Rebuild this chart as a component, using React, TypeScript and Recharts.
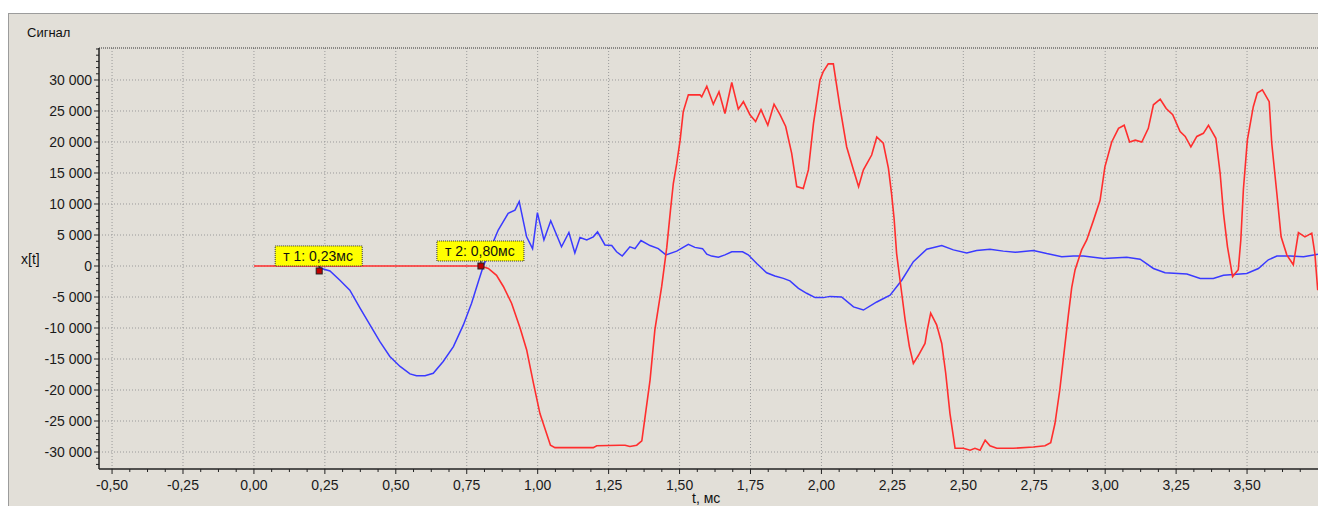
import React from 'react';
import { LineChart, Line, XAxis, YAxis, ReferenceLine, ReferenceDot } from 'recharts';

// red channel (t in ms, value)
const redTimes = [
  0.0, 0.8, 0.826, 0.855, 0.879, 0.908, 0.938, 0.961, 0.985, 1.008, 1.045, 1.061, 1.196, 1.208, 1.29, 1.308,
  1.325, 1.349, 1.367, 1.378, 1.396, 1.413, 1.437, 1.455, 1.468, 1.478, 1.49, 1.502, 1.513, 1.531, 1.572, 1.578,
  1.596, 1.619, 1.639, 1.66, 1.684, 1.707, 1.725, 1.748, 1.768, 1.787, 1.811, 1.833, 1.854, 1.874, 1.895, 1.913,
  1.936, 1.954, 1.972, 1.995, 2.006, 2.024, 2.042, 2.065, 2.089, 2.113, 2.131, 2.148, 2.177, 2.195, 2.218, 2.236,
  2.247, 2.256, 2.265, 2.277, 2.295, 2.31, 2.324, 2.342, 2.365, 2.373, 2.385, 2.406, 2.424, 2.438, 2.453, 2.471,
  2.5, 2.524, 2.541, 2.559, 2.577, 2.594, 2.618, 2.676, 2.747, 2.788, 2.808, 2.823, 2.84, 2.855, 2.87, 2.882,
  2.894, 2.917, 2.935, 2.959, 2.982, 2.999, 3.023, 3.047, 3.067, 3.086, 3.106, 3.129, 3.152, 3.17, 3.194, 3.215,
  3.238, 3.264, 3.282, 3.302, 3.323, 3.346, 3.364, 3.39, 3.405, 3.417, 3.431, 3.449, 3.469, 3.478, 3.487, 3.501,
  3.522, 3.536, 3.554, 3.578, 3.587, 3.605, 3.62, 3.64, 3.663, 3.681, 3.704, 3.728, 3.739, 3.749,
];
const redValues = [
  0, 0, -400, -1500, -3300, -6000, -10000, -13500, -18900, -23800, -28900, -29300, -29300, -29000, -28900, -28900,
  -29100, -28900, -28200, -24500, -18400, -10300, -3300, 3000, 9000, 13300, 16500, 20300, 24900, 27600, 27600, 27300,
  29000, 26100, 28100, 24600, 29600, 25300, 26500, 24400, 23300, 25200, 22700, 26100, 24400, 22500, 18200, 12800,
  12500, 15500, 23000, 30000, 31300, 32600, 32600, 25700, 19200, 15500, 12800, 15500, 17900, 20800, 19800, 15800,
  11700, 7700, 2000, -2300, -8700, -13000, -15700, -14400, -12500, -10300, -7600, -9500, -12500, -17300, -23800, -29400,
  -29400, -29700, -29400, -29700, -28100, -29000, -29400, -29400, -29200, -29000, -28500, -25400, -20000, -14000, -8000, -3500,
  -600, 2600, 4200, 7400, 10600, 16000, 20000, 22200, 22700, 20000, 20300, 20000, 22200, 26000, 26900, 25400,
  24400, 21700, 20900, 19200, 20900, 21400, 22700, 20600, 15000, 8500, 3100, -1700, -600, 4200, 12300, 20300,
  25700, 27900, 28400, 26500, 19800, 11700, 4700, 1800, 200, 5400, 4700, 5300, 2000, -3900,
];

// blue channel
const blueTimes = [
  0.23, 0.239, 0.268, 0.303, 0.338, 0.374, 0.409, 0.444, 0.479, 0.515, 0.55, 0.573, 0.603, 0.632, 0.667, 0.703,
  0.738, 0.767, 0.791, 0.808, 0.826, 0.861, 0.896, 0.92, 0.935, 0.961, 0.982, 0.999, 1.022, 1.046, 1.084, 1.11,
  1.131, 1.149, 1.173, 1.196, 1.211, 1.237, 1.261, 1.278, 1.298, 1.325, 1.343, 1.364, 1.396, 1.425, 1.452, 1.49,
  1.531, 1.554, 1.581, 1.596, 1.613, 1.637, 1.66, 1.684, 1.722, 1.742, 1.772, 1.807, 1.836, 1.866, 1.889, 1.919,
  1.948, 1.978, 2.007, 2.03, 2.071, 2.113, 2.148, 2.195, 2.242, 2.283, 2.324, 2.371, 2.424, 2.465, 2.512, 2.547,
  2.594, 2.641, 2.683, 2.747, 2.794, 2.847, 2.888, 2.923, 2.994, 3.076, 3.123, 3.17, 3.211, 3.288, 3.335, 3.381,
  3.417, 3.499, 3.54, 3.575, 3.605, 3.652, 3.699, 3.75,
];
const blueValues = [
  0, -400, -800, -2300, -3900, -6800, -9500, -12200, -14600, -16200, -17400, -17700, -17700, -17300, -15400, -13000,
  -9500, -6000, -2500, -100, 2000, 5800, 8500, 9000, 10400, 4700, 2800, 8600, 4200, 7300, 3100, 5400,
  2100, 4600, 4200, 4700, 5500, 3400, 3300, 2300, 1600, 3100, 2800, 4100, 3300, 2800, 1800, 2400,
  3500, 3000, 2800, 1900, 1600, 1400, 1800, 2300, 2300, 1800, 400, -1100, -1600, -2000, -2400, -3600,
  -4400, -5100, -5100, -4900, -5000, -6600, -7100, -5800, -4700, -2300, 700, 2700, 3300, 2600, 2100, 2500,
  2700, 2400, 2200, 2500, 2000, 1500, 1600, 1600, 1200, 1400, 1100, -400, -1100, -1300, -2000, -2000,
  -1500, -1200, -400, 1000, 1600, 1600, 1500, 1900,
];

const xMajorTicks = [-0.5, -0.25, 0, 0.25, 0.5, 0.75, 1, 1.25, 1.5, 1.75, 2, 2.25, 2.5, 2.75, 3, 3.25, 3.5];
const yMajorTicks = [-30000, -25000, -20000, -15000, -10000, -5000, 0, 5000, 10000, 15000, 20000, 25000, 30000];
const xMinorTicks = Array.from({ length: 68 }, (_, i) => -0.5 + i * 0.0625);
const yMinorTicks = Array.from({ length: 68 }, (_, i) => -32000 + i * 1000);

const markerTimes = [0.23, 0.8];
const markerValues = [-800, 0];
const markerLabels = ['т 1: 0,23мс', 'т 2: 0,80мс'];

const X_DOMAIN: [number, number] = [-0.546, 3.75];
const Y_DOMAIN: [number, number] = [-32740, 35160];

const FONT = '"Liberation Sans", Arial, sans-serif';

const redData = redTimes.map((t, i) => ({ t, v: redValues[i] }));
const blueData = blueTimes.map((t, i) => ({ t, v: blueValues[i] }));

const fmtX = (v: number) => v.toFixed(2).replace('.', ',');
const fmtY = (v: number) => {
  const s = Math.abs(v).toString().replace(/\B(?=(\d{3})+(?!\d))/g, ' ');
  return (v < 0 ? '-' : '') + s;
};

const XTick = (props: any) => {
  const { x, y, payload } = props;
  const v = payload.value;
  const major = Math.abs(v * 4 - Math.round(v * 4)) < 1e-6;
  return (
    <g>
      <line x1={x} y1={y} x2={x} y2={y + (major ? 5 : 3)} stroke="#222" />
      {major && (
        <text x={x} y={y + 21} textAnchor="middle" fontSize={14} fontFamily={FONT} fill="#1a1a1a">
          {fmtX(v)}
        </text>
      )}
    </g>
  );
};

const YTick = (props: any) => {
  const { x, y, payload } = props;
  const v = payload.value;
  const major = v % 5000 === 0 && Math.abs(v) <= 30000;
  return (
    <g>
      <line x1={x - (major ? 5 : 3)} y1={y} x2={x} y2={y} stroke="#222" />
      {major && (
        <text x={x - 7} y={y + 5} textAnchor="end" fontSize={14} fontFamily={FONT} fill="#1a1a1a">
          {fmtY(v)}
        </text>
      )}
    </g>
  );
};

const Marker = ({ cx, cy, text }: { cx: number; cy: number; text: string }) => (
  <g>
    <rect x={cx - 44} y={cy - 25} width={87} height={20} fill="#ffff00" stroke="#333" strokeDasharray="1 1" />
    <text x={cx - 36} y={cy - 10} fontSize={14} fontFamily={FONT} fill="#111">
      {text}
    </text>
    <line x1={cx} y1={cy - 5} x2={cx} y2={cy - 2} stroke="#111" />
    <rect x={cx - 3} y={cy - 3} width={6} height={6} fill="#c00000" stroke="#222" />
  </g>
);

export default function App() {
  return (
    <div style={{ position: 'fixed', left: 0, top: 0, width: 1318, height: 506, overflow: 'hidden', background: '#fff' }}>
      <div
        style={{
          position: 'absolute',
          left: 8,
          top: 13,
          width: 1320,
          height: 500,
          background: '#e2dfd8',
          borderLeft: '1px solid #9c9c9c',
          borderTop: '1px solid #9c9c9c',
        }}
      />
      <div style={{ position: 'absolute', left: 27, top: 25, fontFamily: FONT, fontSize: 13, lineHeight: '16px', color: '#111' }}>
        Сигнал
      </div>
      <div style={{ position: 'absolute', left: 21, top: 251, fontFamily: FONT, fontSize: 14, lineHeight: '16px', color: '#111' }}>
        x[t]
      </div>
      <div style={{ position: 'absolute', left: 692, top: 490, fontFamily: FONT, fontSize: 14, lineHeight: '16px', color: '#111' }}>
        t, мс
      </div>
      <div style={{ position: 'absolute', left: 0, top: 0 }}>
        <LineChart width={1318} height={506} margin={{ top: 48, right: 0, bottom: 7, left: 0 }}>
          <XAxis
            type="number"
            dataKey="t"
            domain={X_DOMAIN}
            allowDataOverflow
            ticks={xMinorTicks}
            interval={0}
            tickSize={0}
            tickMargin={0}
            tickLine={false}
            tick={(p: any) => <XTick {...p} />}
            axisLine={{ stroke: '#222', strokeWidth: 1.5 }}
            height={30}
          />
          <YAxis
            type="number"
            dataKey="v"
            domain={Y_DOMAIN}
            allowDataOverflow
            ticks={yMinorTicks}
            interval={0}
            tickSize={0}
            tickMargin={0}
            tickLine={false}
            tick={(p: any) => <YTick {...p} />}
            axisLine={{ stroke: '#222', strokeWidth: 1.5 }}
            width={99}
          />
          {xMajorTicks.map((t) => (
            <ReferenceLine key={'gx' + t} x={t} stroke="#9a9a9a" strokeDasharray="1 2" />
          ))}
          {yMajorTicks.map((v) => (
            <ReferenceLine key={'gy' + v} y={v} stroke="#9a9a9a" strokeDasharray="1 2" />
          ))}
          <ReferenceLine y={Y_DOMAIN[1]} stroke="#333" strokeDasharray="1 1" />
          <Line
            data={blueData}
            dataKey="v"
            type="linear"
            stroke="#3a3aff"
            strokeWidth={1.5}
            dot={false}
            activeDot={false}
            isAnimationActive={false}
          />
          <Line
            data={redData}
            dataKey="v"
            type="linear"
            stroke="#ff2e2e"
            strokeWidth={1.6}
            dot={false}
            activeDot={false}
            isAnimationActive={false}
          />
          {markerTimes.map((t, i) => (
            <ReferenceDot
              key={'m' + i}
              x={t}
              y={markerValues[i]}
              r={3}
              shape={(p: any) => <Marker cx={p.cx} cy={p.cy} text={markerLabels[i]} />}
            />
          ))}
        </LineChart>
      </div>
    </div>
  );
}
